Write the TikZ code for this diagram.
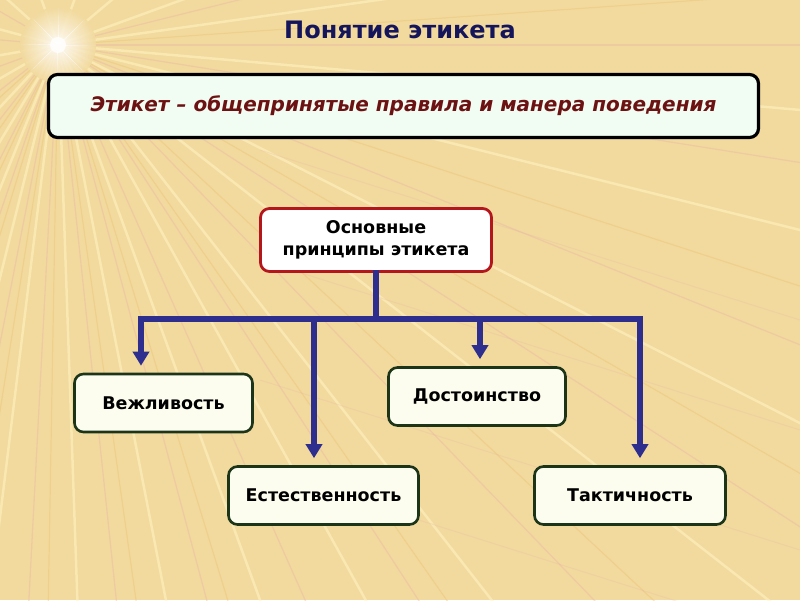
\documentclass[tikz,border=0pt]{standalone}
\usepackage{fontspec}
\setmainfont{DejaVu Sans}
\usetikzlibrary{arrows.meta}

\definecolor{bgtan}{HTML}{F2DA9E}
\definecolor{raylight}{HTML}{FFF4C4}
\definecolor{raypink}{HTML}{E8B4A6}
\definecolor{rayorange}{HTML}{E9C073}
\definecolor{titlenavy}{HTML}{15155C}
\definecolor{defred}{HTML}{6C1212}
\definecolor{defmint}{HTML}{F1FCF3}
\definecolor{mainred}{HTML}{B3161C}
\definecolor{leafgreen}{HTML}{1C3519}
\definecolor{leaffill}{HTML}{FCFCEF}
\definecolor{linkblue}{HTML}{2E2E8E}

\begin{document}
\begin{tikzpicture}[x=1pt, y=-1pt,
    defbox/.style={draw=black, line width=3.2pt, rounded corners=9pt, fill=defmint,
        minimum width=710pt, minimum height=63pt, text=defred,
        font=\fontsize{20}{24}\selectfont\bfseries\itshape},
    mainbox/.style={draw=mainred, line width=2.8pt, rounded corners=9pt, fill=white,
        minimum width=231pt, minimum height=63pt, align=center,
        font=\fontsize{17.5}{22}\selectfont\bfseries},
    leaf/.style={draw=leafgreen, line width=2.6pt, rounded corners=9pt, fill=leaffill,
        minimum height=58pt, font=\fontsize{17.5}{20}\selectfont\bfseries},
    link/.style={linkblue, line width=5.5pt, line cap=rect},
    arr/.style={linkblue, line width=5.5pt, shorten >=7pt,
        -{Triangle[width=16pt,length=14pt]}}]

    \useasboundingbox (0,0) rectangle (800,600);
    \fill[bgtan] (0,0) rectangle (800,600);

    % rays from the light in the corner
    \coordinate (star) at (58,45);
    \begin{scope}
    \clip (0,0) rectangle (800,600);
    \foreach \a in {-20,-8,5,14,27,38,52,61,70,79,88,97,104,112,121,133,150,170,195,222,250,290,320} {
        \draw[raylight, line width=2.5pt, opacity=0.55] (star) -- ++(\a:1100);
    }
    \foreach \a in {-14,0,9,22,33,46,57,66,75,84,93,101,109,117,128,142,160,185,210} {
        \draw[raypink, line width=1.3pt, opacity=0.4] (star) -- ++(\a:1100);
    }
    \foreach \a in {-4,18,30,43,55,73,82,91,99,107,115,125,138} {
        \draw[rayorange, line width=1.2pt, opacity=0.4] (star) -- ++(\a:1100);
    }
    \foreach \y in {150,260,380,470} {
        \draw[raypink, line width=1pt, opacity=0.25] (260,\y) -- (800,\y+170);
    }
    \end{scope}
    \shade[inner color=white, outer color=bgtan, opacity=0.9] (star) circle (38);
    \foreach \a in {0,45,...,315} {
        \fill[white, opacity=0.6] (star) -- ++(\a+6:9) -- ++(\a:28) -- cycle;
    }
    \fill[white, opacity=0.8] (star) circle (8);

    % title and definition
    \node[text=titlenavy, font=\fontsize{24}{28}\selectfont\bfseries] (title) at (400,30) {Понятие этикета};
    \node[defbox] (def) at (403.5,106) {Этикет – общепринятые правила и манера поведения};

    % principles
    \node[mainbox] (osn) at (376,240) {Основные\\принципы этикета};
    \node[leaf, minimum width=178pt] (vezh) at (163.5,403) {Вежливость};
    \node[leaf, minimum width=177pt] (dost) at (477,396.5) {Достоинство};
    \node[leaf, minimum width=190pt] (est) at (323.5,495.5) {Естественность};
    \node[leaf, minimum width=191pt] (takt) at (630,495.5) {Тактичность};

    \coordinate (fork) at (376,319);
    \coordinate (b1) at (141,319);
    \coordinate (b2) at (314,319);
    \coordinate (b3) at (480,319);
    \coordinate (b4) at (640,319);

    \draw[link] (osn.south) -- (fork);
    \draw[link] (b1) -- (b4);
    \draw[arr] (b1) -- (b1 |- vezh.north);
    \draw[arr] (b2) -- (b2 |- est.north);
    \draw[arr] (b3) -- (b3 |- dost.north);
    \draw[arr] (b4) -- (b4 |- takt.north);

\end{tikzpicture}
\end{document}
